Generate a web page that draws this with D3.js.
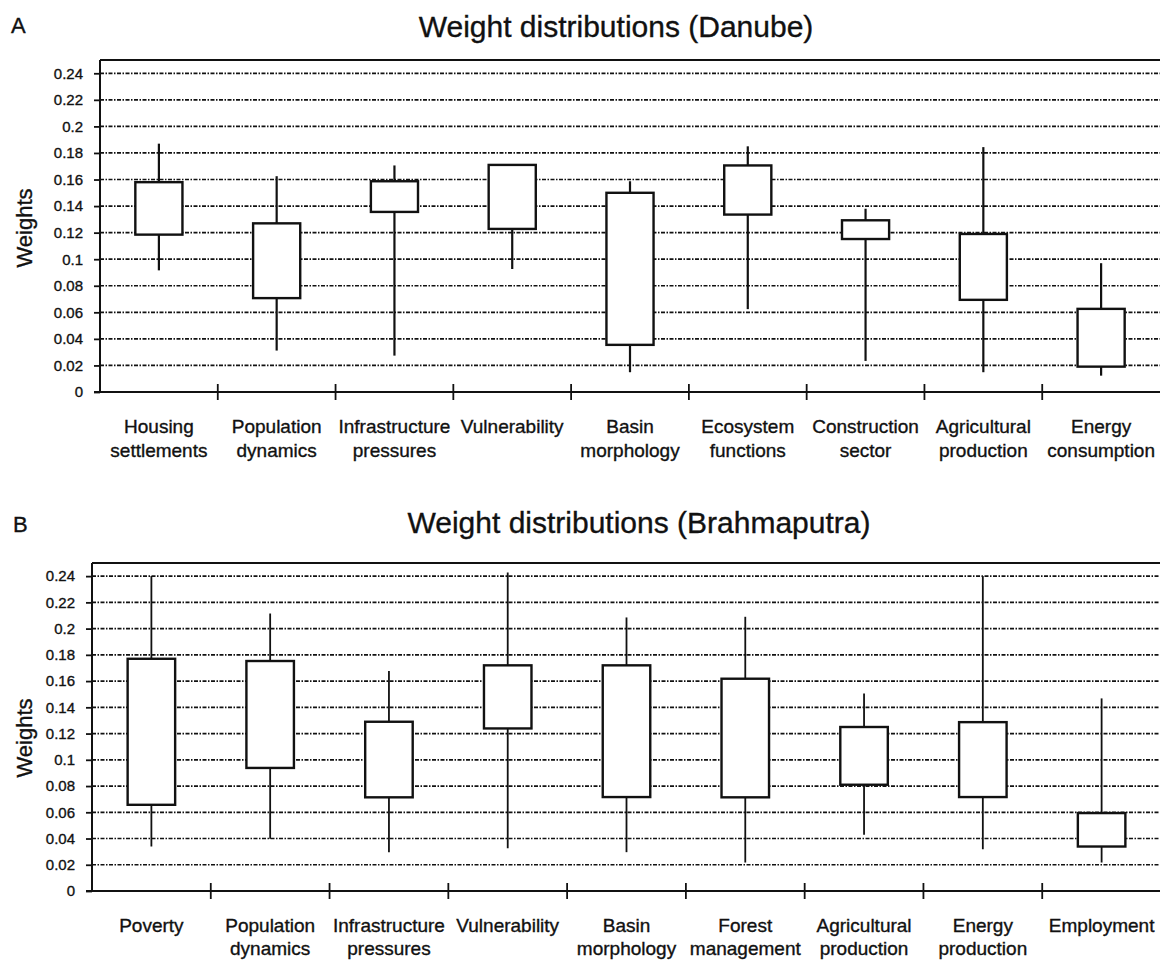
<!DOCTYPE html>
<html>
<head>
<meta charset="utf-8">
<script src="https://cdn.jsdelivr.net/npm/d3@7"></script>
<style>
  body { margin: 0; background: #fff; }
  svg { display: block; font-family: "Liberation Sans", Arial, sans-serif; }
  text { stroke: #111; stroke-width: 0.35px; }
</style>
</head>
<body>
<svg id="chart" width="1160" height="960"></svg>
<script>
// y tick labels shared by both panels
const yTicks = [0, 0.02, 0.04, 0.06, 0.08, 0.1, 0.12, 0.14, 0.16, 0.18, 0.2, 0.22, 0.24];

// Panel A - Danube
const danubeCategories = ["Housing\nsettlements", "Population\ndynamics", "Infrastructure\npressures",
  "Vulnerability", "Basin\nmorphology", "Ecosystem\nfunctions", "Construction\nsector",
  "Agricultural\nproduction", "Energy\nconsumption"];
const danubeMax = [0.187, 0.1625, 0.1706, 0.171, 0.1587, 0.185, 0.138, 0.1844, 0.097];
const danubeHigh = [0.158, 0.127, 0.1587, 0.171, 0.150, 0.1706, 0.1293, 0.119, 0.0626];
const danubeLow = [0.1185, 0.0707, 0.1356, 0.1228, 0.0355, 0.1336, 0.1152, 0.0694, 0.0191];
const danubeMin = [0.0916, 0.0312, 0.0274, 0.0926, 0.0149, 0.0624, 0.0234, 0.0149, 0.0123];

// Panel B - Brahmaputra
const brahmaCategories = ["Poverty", "Population\ndynamics", "Infrastructure\npressures",
  "Vulnerability", "Basin\nmorphology", "Forest\nmanagement", "Agricultural\nproduction",
  "Energy\nproduction", "Employment"];
const brahmaMax = [0.24, 0.2115, 0.1677, 0.2428, 0.2085, 0.209, 0.1506, 0.24, 0.1468];
const brahmaHigh = [0.177, 0.1753, 0.129, 0.172, 0.172, 0.1618, 0.125, 0.1287, 0.0594];
const brahmaLow = [0.0657, 0.0938, 0.0714, 0.1239, 0.0716, 0.0714, 0.081, 0.0716, 0.0339];
const brahmaMin = [0.0339, 0.0398, 0.0296, 0.0326, 0.0296, 0.0217, 0.0428, 0.0319, 0.0217];

const svg = d3.select("#chart");

function panel(opt) {
  const g = svg.append("g");
  const x = d3.scaleBand().domain(opt.categories).range([opt.left, opt.right]);
  const y = d3.scaleLinear().domain([0, 0.25]).range([opt.bottom, opt.top]);

  g.append("text")
      .attr("x", opt.letterX).attr("y", opt.letterY)
      .attr("font-size", 22).attr("fill", "#111")
      .text(opt.letter);

  g.append("text")
      .attr("x", opt.titleX).attr("y", opt.titleY)
      .attr("text-anchor", "middle")
      .attr("font-size", 30).attr("fill", "#111")
      .text(opt.title);

  // dashed grid
  g.append("g")
    .selectAll("line")
    .data(yTicks.filter(d => d > 0))
    .join("line")
      .attr("x1", opt.left).attr("x2", opt.right)
      .attr("y1", d => y(d)).attr("y2", d => y(d))
      .attr("stroke", "#111")
      .attr("stroke-width", 1.7)
      .attr("stroke-dasharray", "4,1.5,1.5,1.5");

  // top border
  g.append("line")
      .attr("x1", opt.left).attr("x2", opt.right)
      .attr("y1", y(0.25)).attr("y2", y(0.25))
      .attr("stroke", "#111").attr("stroke-width", 2);

  // y axis
  const yAxis = g.append("g")
      .attr("transform", `translate(${opt.left},0)`)
      .call(d3.axisLeft(y).tickValues(yTicks).tickSize(6).tickPadding(11)
        .tickFormat(d => String(+d.toFixed(2))));
  yAxis.select(".domain").attr("stroke", "#111").attr("stroke-width", 2)
      .attr("d", `M0,${y(0.25)}V${y(0)}`);
  yAxis.selectAll(".tick line").attr("stroke", "#111").attr("stroke-width", 1.8);
  yAxis.selectAll(".tick text")
      .attr("font-size", 15).attr("font-family", "'Liberation Sans', Arial, sans-serif")
      .attr("fill", "#111");

  g.append("text")
      .attr("transform", `translate(${opt.labelX},${opt.labelY}) rotate(-90)`)
      .attr("text-anchor", "middle")
      .attr("font-size", 22).attr("fill", "#111")
      .text("Weights");

  // x axis
  g.append("line")
      .attr("x1", opt.left - 6).attr("x2", opt.right)
      .attr("y1", y(0)).attr("y2", y(0))
      .attr("stroke", "#111").attr("stroke-width", 2);
  g.append("g")
    .selectAll("line")
    .data(opt.categories.slice(1))
    .join("line")
      .attr("x1", d => x(d)).attr("x2", d => x(d))
      .attr("y1", y(0) - 8).attr("y2", y(0) + 8)
      .attr("stroke", "#111").attr("stroke-width", 1.8);

  const lab = g.append("g")
    .selectAll("text")
    .data(opt.categories)
    .join("text")
      .attr("text-anchor", "middle")
      .attr("font-size", 19).attr("fill", "#111")
      .attr("transform", d => `translate(${x(d) + x.bandwidth() / 2},${opt.labelBase})`);
  lab.selectAll("tspan")
    .data(d => d.split("\n"))
    .join("tspan")
      .attr("x", 0)
      .attr("y", (d, i) => i * opt.lineGap)
      .text(d => d);

  // boxes
  const bw = x.bandwidth() * 0.4;
  const box = g.append("g")
    .selectAll("g")
    .data(opt.categories.map((c, i) => ({c, max: opt.max[i], high: opt.high[i], low: opt.low[i], min: opt.min[i]})))
    .join("g")
      .attr("transform", d => `translate(${x(d.c) + x.bandwidth() / 2},0)`);

  box.append("line")
      .attr("y1", d => y(d.max)).attr("y2", d => y(d.min))
      .attr("stroke", "#111").attr("stroke-width", opt.whisker);
  box.append("rect")
      .attr("x", -bw / 2).attr("width", bw)
      .attr("y", d => y(d.high)).attr("height", d => y(d.low) - y(d.high))
      .attr("fill", "#fff").attr("stroke", "#111").attr("stroke-width", 2.4);
}

panel({
  letter: "A", letterX: 11, letterY: 33,
  title: "Weight distributions (Danube)", titleX: 616, titleY: 37,
  categories: danubeCategories, max: danubeMax, high: danubeHigh, low: danubeLow, min: danubeMin,
  left: 100, right: 1160, top: 60, bottom: 392,
  labelX: 32, labelY: 228, labelBase: 433, lineGap: 24, whisker: 2.2
});

panel({
  letter: "B", letterX: 13, letterY: 532,
  title: "Weight distributions (Brahmaputra)", titleX: 639, titleY: 533,
  categories: brahmaCategories, max: brahmaMax, high: brahmaHigh, low: brahmaLow, min: brahmaMin,
  left: 92, right: 1161, top: 563, bottom: 891,
  labelX: 32, labelY: 738, labelBase: 932, lineGap: 23, whisker: 1.8
});
</script>
</body>
</html>
